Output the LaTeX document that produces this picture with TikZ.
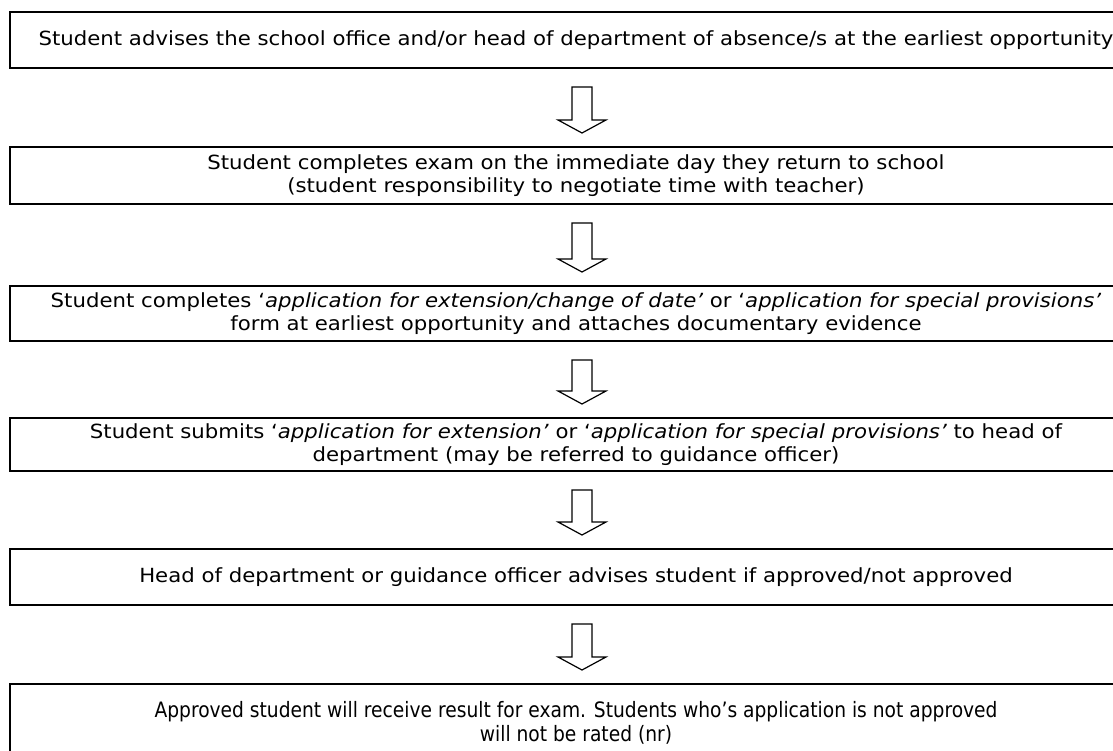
\documentclass[tikz,border=0pt]{standalone}
\usepackage{fontspec}
\setmainfont[FakeStretch=1.09]{DejaVu Sans}
\newfontfamily\narrowfont[FakeStretch=0.88]{DejaVu Sans}
\usetikzlibrary{calc}
\tikzset{
    stepbox/.style={draw=black, line width=2pt, minimum width=1132pt, minimum height=56pt,
        align=center, inner sep=0pt, font=\fontsize{19.5}{23}\selectfont},
    narrowtext/.style={font=\narrowfont\fontsize{21.2}{24}\selectfont},
    hollow/.style={draw=black, line width=1.2pt, fill=white, line join=miter},
}
% hollow block arrow from the foot of one box to the head of the next
\newcommand{\nextstep}[2]{%
    \draw[hollow] ($(#1.south)+(-4,18)$) -- ($(#1.south)+(16,18)$)
        -- ($(#2.north)+(16,-26)$) -- ($(#2.north)+(30,-26)$)
        -- ($(#2.north)+(6,-13)$) -- ($(#2.north)+(-18,-26)$)
        -- ($(#2.north)+(-4,-26)$) -- cycle;}

\begin{document}
\begin{tikzpicture}[x=1pt, y=-1pt]
    \useasboundingbox (0,0) rectangle (1113,751);
	\node[stepbox] (advise) at (576,40) {Student advises the school office and/or head of department of absence/s at the earliest opportunity};
	\node[stepbox, minimum height=57pt] (sit) at (576,175.5) {Student completes exam on the immediate day they return to school\\ (student responsibility to negotiate time with teacher)};
	\node[stepbox, minimum height=55pt] (form) at (576,313.5) {Student completes ‘\textit{application for extension/change of date’} or ‘\textit{application for special provisions’}\\ form at earliest opportunity and attaches documentary evidence};
	\node[stepbox, minimum height=53pt] (submit) at (576,444.5) {Student submits ‘\textit{application for extension’} or ‘\textit{application for special provisions’} to head of\\ department (may be referred to guidance officer)};
	\node[stepbox] (advised) at (576,577) {Head of department or guidance officer advises student if approved/not approved};
	\node[stepbox, narrowtext, minimum height=78pt] (result) at (576,723) {Approved student will receive result for exam. Students who’s application is not approved\\ will not be rated (nr)};
	\nextstep{advise}{sit}
	\nextstep{sit}{form}
	\nextstep{form}{submit}
	\nextstep{submit}{advised}
	\nextstep{advised}{result}
\end{tikzpicture}
\end{document}
